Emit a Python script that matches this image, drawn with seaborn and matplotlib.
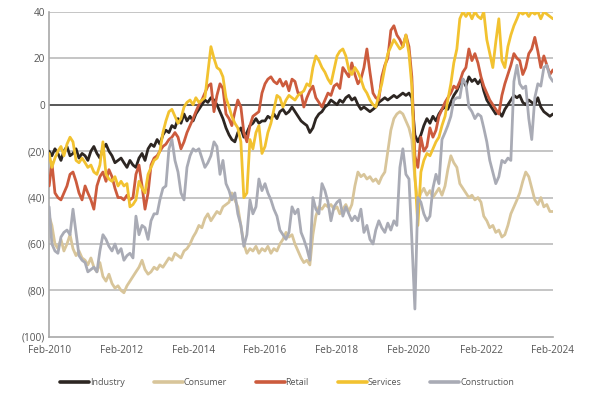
import numpy as np
import pandas as pd
import matplotlib
matplotlib.use("Agg")
import matplotlib.pyplot as plt
import matplotlib.dates as mdates
from matplotlib.ticker import FixedLocator, FuncFormatter
import seaborn as sns

# Monthly balance indicators, Feb-2010 .. Feb-2024
months = pd.date_range("2010-02-01", "2024-02-01", freq="MS")

industry = [
    -20, -22, -19, -21, -24, -20, -18, -22, -21, -19, -23, -21,
    -22, -24, -20, -18, -21, -23, -19, -17, -20, -22, -25, -24,
    -23, -25, -27, -24, -26, -27, -23, -21, -24, -19, -17, -18,
    -15, -17, -13, -11, -12, -9, -10, -6, -8, -4, -7, -5,
    -7, -4, -2, 0, 2, 1, 3, 2, 0, -3, -6, -10,
    -13, -15, -16, -12, -10, -14, -12, -9, -8, -6, -8, -7,
    -7, -5, -6, -4, -6, -3, -2, -4, -3, -1, -3, -5,
    -7, -8, -9, -12, -10, -6, -4, -3, -1, 0, 2, 1,
    0, 2, 1, 3, 4, 2, 3, 0, -2, -1, -2, -3,
    -2, -1, 1, 2, 3, 2, 3, 4, 3, 4, 5, 4,
    5, 3, -13, -16, -13, -9, -6, -8, -5, -7, -4, -2,
    -1, -2, 1, 4, 6, 9, 11, 8, 12, 10, 11, 9,
    11, 6, 2, 0, -2, -4, -3, -5, -2, 0, 2, 4,
    3, 4, 1, 0, 2, 1, 0, 3, -1, -3, -4, -5,
    -4,
]

consumer = [
    -48, -52, -60, -62, -58, -63, -60, -56, -62, -65, -63, -66,
    -67, -69, -66, -70, -72, -68, -74, -76, -73, -77, -79, -78,
    -80, -81, -78, -76, -74, -72, -70, -67, -71, -73, -72, -70,
    -71, -69, -70, -68, -66, -67, -64, -65, -66, -63, -62, -60,
    -57, -55, -52, -53, -49, -47, -50, -48, -46, -47, -44, -43,
    -42, -38, -41, -44, -52, -60, -64, -62, -63, -61, -64, -62,
    -63, -61, -64, -62, -63, -60, -58, -55, -57, -56, -60, -63,
    -66, -68, -67, -69, -56, -48, -44, -45, -43, -44, -43, -45,
    -44, -47, -45, -43, -46, -43, -35, -29, -31, -30, -32, -31,
    -33, -32, -34, -31, -29, -20, -11, -6, -4, -3, -4, -7,
    -10, -15, -32, -42, -38, -36, -39, -37, -40, -38, -36, -39,
    -35, -28, -22, -25, -27, -34, -36, -38, -40, -39, -41, -40,
    -42, -48, -50, -53, -52, -55, -54, -57, -56, -52, -47, -44,
    -41, -38, -33, -29, -31, -36, -41, -43, -40, -44, -43, -46,
    -46,
]

retail = [
    -35, -25, -38, -40, -41, -38, -35, -30, -29, -33, -38, -41,
    -35, -38, -41, -45, -35, -31, -29, -33, -28, -31, -36, -40,
    -40, -41, -39, -41, -40, -30, -26, -35, -45, -38, -26, -23,
    -22, -20, -18, -17, -15, -14, -12, -14, -19, -16, -12, -9,
    -6, -3, 0, 2, 5, 8, 9, -3, 4, 9, 7, -4,
    -6, -9, -3, 2, -1, -12, -16, -9, -5, -4, -3, 5,
    9, 11, 12, 10, 9, 11, 8, 10, 6, 11, 10, 5,
    5, -1, 3, 6, 8, 3, 1, -1, 2, 5, 4, 8,
    9, 7, 16, 14, 12, 18, 13, 9, 11, 16, 24, 14,
    5, 3, 2, 12, 17, 20, 32, 34, 30, 28, 25, 30,
    25, 12, -22, -27, -14, -20, -18, -10, -14, -11, -5, -2,
    1, 3, 5, 8, 7, 10, 14, 16, 24, 19, 22, 18,
    12, 8, 5, 2, 0, -2, -4, 4, 9, 13, 17, 22,
    20, 19, 13, 16, 22, 24, 29, 23, 16, 21, 17, 13,
    15,
]

services = [
    -21, -27, -23, -20, -18, -22, -17, -14, -16, -24, -25, -23,
    -25, -27, -26, -29, -30, -26, -16, -30, -32, -33, -31, -35,
    -33, -35, -34, -44, -43, -41, -33, -36, -38, -30, -27, -24,
    -23, -20, -12, -7, -3, -2, -5, -8, -6, -1, 1, 2,
    0, 3, 1, 2, 3, 14, 25, 20, 16, 15, 12, 3,
    -1, -5, -8, -10, -16, -40, -38, -15, -19, -12, -9, -21,
    -18, -12, -8, -2, 4, 3, -1, 2, 4, 3, 2, 4,
    5, 6, 9, 8, 16, 21, 19, 16, 14, 11, 9, 15,
    21, 23, 24, 21, 15, 13, 16, 14, 11, 7, 5, 2,
    0, -1, 4, 9, 16, 22, 25, 28, 26, 24, 25, 30,
    22, 8, -30, -52, -29, -24, -21, -22, -19, -16, -14, -9,
    -5, 2, 9, 18, 24, 37, 40, 38, 40, 37, 40, 38,
    37, 40, 28, 22, 16, 27, 37, 19, 16, 25, 30, 34,
    37, 40, 39, 40, 38, 40, 39, 40, 37, 40, 39, 38,
    37,
]

construction = [
    -44, -60, -63, -64, -57, -55, -54, -56, -45, -55, -65, -67,
    -68, -72, -71, -70, -72, -63, -56, -58, -61, -63, -60, -64,
    -62, -67, -65, -64, -66, -48, -56, -52, -53, -58, -50, -47,
    -47, -41, -36, -35, -19, -15, -24, -29, -38, -41, -27, -22,
    -19, -20, -19, -23, -27, -25, -22, -16, -18, -30, -24, -34,
    -37, -41, -38, -47, -52, -61, -56, -41, -47, -44, -32, -37,
    -34, -38, -41, -45, -48, -54, -56, -58, -55, -44, -47, -45,
    -55, -58, -62, -67, -40, -45, -47, -34, -37, -42, -50, -44,
    -42, -41, -48, -44, -47, -50, -48, -50, -45, -55, -52, -58,
    -60, -54, -50, -53, -55, -51, -54, -50, -52, -27, -19, -30,
    -32, -58, -88, -40, -42, -47, -50, -48, -36, -30, -34, -15,
    -12, -9, -5, 2, 3, 3, 11, 9, -1, -3, -6, -4,
    -5, -10, -16, -24, -29, -34, -31, -24, -25, -23, -24, 10,
    17, 9, 7, 8, -6, -15, 3, 9, 8, 16, 17, 12,
    10,
]

series_names = ["Industry", "Consumer", "Retail", "Services", "Construction"]
series_colors = ["#2d2622", "#d8c59a", "#cc5b3d", "#f2c230", "#a9abb5"]
y_ticks = [40, 20, 0, -20, -40, -60, -80, -100]

wide = pd.DataFrame(
    {"Month": months, "Industry": industry, "Consumer": consumer,
     "Retail": retail, "Services": services, "Construction": construction}
)
long = wide.melt(id_vars="Month", var_name="Series", value_name="Balance")

sns.set_theme(style="white")
plt.rcParams["font.family"] = ["Open Sans", "DejaVu Sans"]

fig = plt.figure(figsize=(5.92, 3.94), dpi=100)
ax = fig.add_axes([0.083, 0.145, 0.851, 0.825])

# horizontal grid
for v in y_ticks:
    if v == 0:
        ax.axhline(v, color="#4a4a4a", lw=1.3, zorder=1)
    elif v != -100:
        ax.axhline(v, color="#b5b5b5", lw=1.1, zorder=1)

sns.lineplot(
    data=long, x="Month", y="Balance", hue="Series",
    hue_order=series_names, palette=dict(zip(series_names, series_colors)),
    linewidth=2.0, ax=ax, legend=False, zorder=3,
)

ax.set_xlim(months[0], months[-1])
ax.set_ylim(-100, 40)
ax.set_xlabel("")
ax.set_ylabel("")

for side in ["top", "right"]:
    ax.spines[side].set_visible(False)
ax.spines["left"].set_color("#a8a8a8")
ax.spines["left"].set_linewidth(1.2)
ax.spines["bottom"].set_color("#a8a8a8")
ax.spines["bottom"].set_linewidth(1.2)

ax.yaxis.set_major_locator(FixedLocator(y_ticks))
ax.yaxis.set_major_formatter(
    FuncFormatter(lambda v, p: f"({abs(int(v))})" if v < 0 else f"{int(v)}")
)
tick_dates = months[::24]
ax.set_xticks(tick_dates)
ax.xaxis.set_major_formatter(mdates.DateFormatter("%b-%Y"))
ax.tick_params(axis="both", length=0, labelsize=7.2, labelcolor="#555555")
ax.tick_params(axis="y", pad=3)
ax.tick_params(axis="x", pad=6)

handles = [plt.Line2D([], [], color=c, lw=2.6) for c in series_colors]
fig.legend(
    handles, series_names, loc="center", bbox_to_anchor=(0.485, 0.03),
    ncol=5, frameon=False, fontsize=6.5, handlelength=3.2,
    handletextpad=0.1, columnspacing=3.2, labelcolor="#555555",
)

fig.savefig("out.png", dpi=100)
